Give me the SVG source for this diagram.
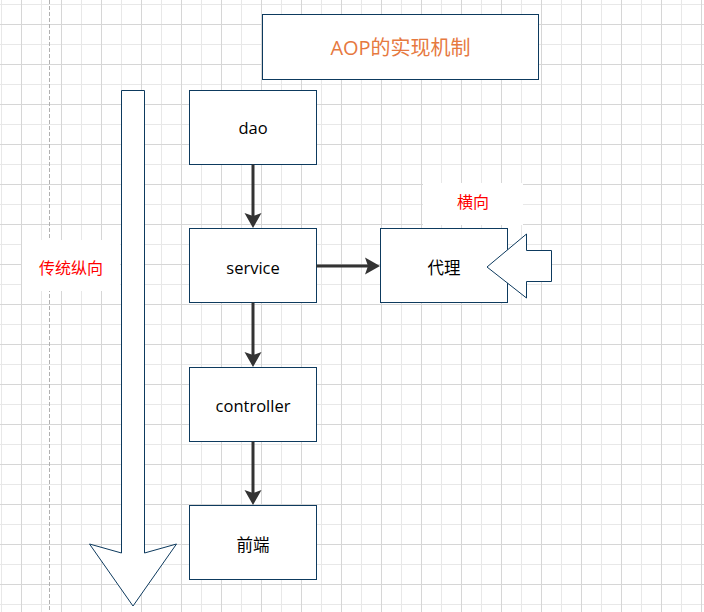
<svg xmlns="http://www.w3.org/2000/svg" width="704" height="612" viewBox="0 0 704 612">
<style>
.box{fill:#ffffff;stroke:#0d3a5e;stroke-width:1}
.shape{fill:#ffffff;stroke:#0d3a5e;stroke-width:1;stroke-linejoin:miter}
.txt{font-family:"Open Sans","Noto Sans CJK SC",sans-serif;font-size:16.5px;fill:#000000;text-anchor:middle}
.red{font-family:"Open Sans","Noto Sans CJK SC",sans-serif;font-size:16px;fill:#ff0000;text-anchor:middle}
.title{font-family:"Open Sans","Noto Sans CJK SC",sans-serif;font-size:20px;fill:#e6793f;text-anchor:middle}
.conn{stroke:#333333;stroke-width:3;fill:none;marker-end:url(#arr)}
.minor{stroke:#e8e8e8;stroke-width:1}
.major{stroke:#d6d6d6;stroke-width:1}
</style>
<defs>
<pattern id="grid" x="0" y="0" width="40" height="40" patternUnits="userSpaceOnUse">
<line class="minor" x1="1.5" y1="0" x2="1.5" y2="40"/>
<line class="minor" x1="0" y1="4.5" x2="40" y2="4.5"/>
<line class="major" x1="21.5" y1="0" x2="21.5" y2="40"/>
<line class="major" x1="0" y1="24.5" x2="40" y2="24.5"/>
</pattern>
<marker id="arr" markerUnits="userSpaceOnUse" markerWidth="16" markerHeight="18" viewBox="0 0 16 18" refX="3" refY="9" orient="auto">
<path d="M0,0.5 L15,9 L0,17.5 L3,9 Z" fill="#333333"/>
</marker>
</defs>
<rect x="0" y="0" width="704" height="612" fill="#ffffff"/>
<rect x="0" y="0" width="704" height="612" fill="url(#grid)"/>
<line x1="49.5" y1="0" x2="49.5" y2="612" stroke="#b0b0b0" stroke-width="1" stroke-dasharray="4,2"/>

<g id="label-vertical">
<rect x="22" y="240" width="98" height="51" fill="#ffffff"/>
<text class="red" x="71" y="274">传统纵向</text>
</g>
<g id="label-horizontal">
<rect x="423" y="183" width="100" height="42" fill="#ffffff"/>
<text class="red" x="473" y="207.5">横向</text>
</g>

<g id="title">
<rect class="box" x="262.5" y="14.5" width="276" height="65"/>
<text class="title" x="400.5" y="55">AOP的实现机制</text>
</g>

<g id="big-down-arrow">
<polygon class="shape" points="121.5,90.5 144.5,90.5 144.5,553 176.5,544 133,606 89.5,544 121.5,553"/>
</g>

<g id="dao">
<rect class="box" x="189.5" y="90.5" width="127" height="74"/>
<text class="txt" x="253" y="134">dao</text>
</g>
<g id="service">
<rect class="box" x="189.5" y="228.5" width="127" height="74"/>
<text class="txt" x="253" y="274">service</text>
</g>
<g id="controller">
<rect class="box" x="189.5" y="367.5" width="127" height="74"/>
<text class="txt" x="253" y="411.5">controller</text>
</g>
<g id="frontend">
<rect class="box" x="189.5" y="505.5" width="127" height="74"/>
<text class="txt" x="253" y="551">前端</text>
</g>
<g id="proxy">
<rect class="box" x="380.5" y="228.5" width="127" height="74"/>
<text class="txt" x="444" y="274">代理</text>
</g>
<g id="left-arrow">
<polygon class="shape" points="551.5,250.5 526.5,250.5 526.5,234 487,267 526.5,298 526.5,281.5 551.5,281.5"/>
</g>

<g id="connectors">
<line class="conn" x1="253" y1="164.5" x2="253" y2="216"/>
<line class="conn" x1="316.5" y1="266" x2="368" y2="266"/>
<line class="conn" x1="253" y1="302.5" x2="253" y2="355"/>
<line class="conn" x1="253" y1="441.5" x2="253" y2="493"/>
</g>
</svg>
